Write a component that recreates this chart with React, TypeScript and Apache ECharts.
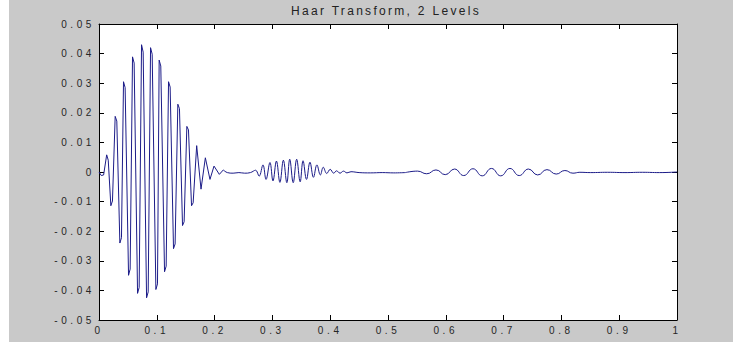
import React, { useEffect, useRef } from "react";
import * as echarts from "echarts";

// ---- Data ----
// Segment 1: the large burst (0 .. 0.22), drawn with its small steps at the extremes
const seg1X = [0, 0.004, 0.008, 0.0133, 0.016, 0.0205, 0.0233, 0.028, 0.0308, 0.0361, 0.0389, 0.0424, 0.0452, 0.0511, 0.0539, 0.058, 0.0608, 0.0667, 0.0695, 0.0736, 0.0764, 0.0823, 0.0851, 0.0892, 0.092, 0.0984, 0.1012, 0.1041, 0.1069, 0.1134, 0.1162, 0.1203, 0.1231, 0.1289, 0.1317, 0.1364, 0.1392, 0.1445, 0.1473, 0.152, 0.1548, 0.1601, 0.1629, 0.169, 0.1765, 0.184, 0.192, 0.199, 0.2082, 0.2151];
const seg1Y = [0, -0.0012, -0.001, 0.0058, 0.004, -0.0114, -0.0098, 0.0188, 0.0172, -0.024, -0.0222, 0.0305, 0.0285, -0.0349, -0.0328, 0.0389, 0.0368, -0.041, -0.039, 0.043, 0.0405, -0.0425, -0.0405, 0.042, 0.0398, -0.0397, -0.0378, 0.0378, 0.0358, -0.0337, -0.0318, 0.0305, 0.0287, -0.0259, -0.0243, 0.0229, 0.0214, -0.0181, -0.0168, 0.0154, 0.0142, -0.0114, -0.0104, 0.0089, -0.0058, 0.0048, -0.0025, 0.002, -0.0008, 0.0007];

// Segment 2: quiet part and the second burst (0.22 .. 0.53)
const seg2X = [0.2151, 0.222, 0.232, 0.242, 0.252, 0.262, 0.271, 0.277, 0.2837, 0.289, 0.2958, 0.301, 0.307, 0.313, 0.319, 0.325, 0.330, 0.336, 0.342, 0.348, 0.353, 0.359, 0.365, 0.371, 0.377, 0.383, 0.388, 0.394, 0.400, 0.406, 0.411, 0.417, 0.423, 0.429, 0.436, 0.45, 0.47, 0.49, 0.51, 0.53];
const seg2Y = [0.0007, -0.0002, -0.0004, -0.0002, -0.0004, -0.0002, 0.0006, -0.0014, 0.0024, -0.0025, 0.0032, -0.003, 0.0037, -0.0035, 0.004, -0.0036, 0.0043, -0.0036, 0.0043, -0.0033, 0.0038, -0.0025, 0.0033, -0.0018, 0.0024, -0.001, 0.0016, -0.0005, 0.0009, -0.0004, 0.0004, -0.0004, 0.0003, -0.0003, 0.0001, -0.0002, -0.0003, -0.0002, -0.0003, -0.0002];

// Segment 3: slow ripple and the flat tail (0.53 .. 1)
const seg3X = [0.53, 0.551, 0.567, 0.583, 0.599, 0.615, 0.631, 0.647, 0.663, 0.679, 0.695, 0.711, 0.727, 0.743, 0.759, 0.775, 0.791, 0.806, 0.82, 0.832, 0.85, 0.88, 0.91, 0.94, 0.97, 1];
const seg3Y = [-0.0002, 0.0003, -0.0006, 0.0007, -0.0009, 0.001, -0.0012, 0.0011, -0.0013, 0.0012, -0.0013, 0.0012, -0.0012, 0.001, -0.001, 0.0008, -0.0007, 0.0005, -0.0004, -0.0001, -0.0002, -0.0001, -0.0002, -0.0001, -0.0002, 0];

const xTickLabels = ["0", "0.1", "0.2", "0.3", "0.4", "0.5", "0.6", "0.7", "0.8", "0.9", "1"];
const yTickLabels = ["-0.05", "-0.04", "-0.03", "-0.02", "-0.01", "0", "0.01", "0.02", "0.03", "0.04", "0.05"];

const title = "Haar Transform, 2 Levels";

const pairs = (xs: number[], ys: number[]): [number, number][] => xs.map((x, i) => [x, ys[i]]);

export default function App() {
  const ref = useRef<HTMLDivElement>(null);

  useEffect(() => {
    if (!ref.current) return;
    const chart = echarts.init(ref.current, null, { renderer: "svg" });

    const labelFont = { fontFamily: "Liberation Sans", fontSize: 10, color: "#262626" };
    const axisLine = { show: true, onZero: false, lineStyle: { color: "#000", width: 1 } };
    const tick = { show: true, inside: true, length: 5, lineStyle: { color: "#000", width: 1 } };
    const lineStyle = { color: "#1c1c88", width: 1 };

    chart.setOption({
      animation: false,
      backgroundColor: "#ffffff",
      graphic: [
        {
          type: "rect",
          z: -100,
          silent: true,
          shape: { x: 9, y: 0, width: 724, height: 342 },
          style: { fill: "#c9c9c9" },
        },
        {
          type: "text",
          x: 386,
          y: 11,
          z: 100,
          style: {
            text: title,
            fill: "#222",
            font: "12px 'Liberation Sans'",
            textAlign: "center",
            textVerticalAlign: "middle",
          },
        },
      ],
      grid: {
        left: 99,
        top: 24,
        width: 578,
        height: 296,
        show: true,
        backgroundColor: "#ffffff",
        borderWidth: 0,
      },
      xAxis: [
        {
          type: "value",
          min: 0,
          max: 1,
          interval: 0.1,
          position: "bottom",
          axisLine,
          axisTick: tick,
          splitLine: { show: false },
          axisLabel: {
            ...labelFont,
            margin: 5,
            formatter: (v: number) => xTickLabels[Math.round(v * 10)] ?? "",
          },
        },
        {
          type: "value",
          min: 0,
          max: 1,
          interval: 0.1,
          position: "top",
          axisLine,
          axisTick: tick,
          splitLine: { show: false },
          axisLabel: { show: false },
        },
      ],
      yAxis: [
        {
          type: "value",
          min: -0.05,
          max: 0.05,
          interval: 0.01,
          position: "left",
          axisLine,
          axisTick: tick,
          splitLine: { show: false },
          axisLabel: {
            ...labelFont,
            margin: 4,
            formatter: (v: number) => yTickLabels[Math.round(v * 100) + 5] ?? "",
          },
        },
        {
          type: "value",
          min: -0.05,
          max: 0.05,
          interval: 0.01,
          position: "right",
          axisLine,
          axisTick: tick,
          splitLine: { show: false },
          axisLabel: { show: false },
        },
      ],
      series: [
        {
          type: "line",
          xAxisIndex: 0,
          yAxisIndex: 0,
          data: pairs(seg1X, seg1Y),
          showSymbol: false,
          symbol: "none",
          clip: true,
          lineStyle,
        },
        {
          type: "line",
          xAxisIndex: 0,
          yAxisIndex: 0,
          data: pairs(seg2X, seg2Y),
          showSymbol: false,
          symbol: "none",
          smooth: 0.4,
          clip: true,
          lineStyle,
        },
        {
          type: "line",
          xAxisIndex: 0,
          yAxisIndex: 0,
          data: pairs(seg3X, seg3Y),
          showSymbol: false,
          symbol: "none",
          smooth: 0.5,
          clip: true,
          lineStyle,
        },
      ],
    });

    return () => chart.dispose();
  }, []);

  return (
    <>
      <style>{`.haar svg text{letter-spacing:3.6px}.haar svg text[style*="12px"]{letter-spacing:2.3px}`}</style>
      <div
        className="haar"
        ref={ref}
        style={{ position: "absolute", left: 0, top: 0, width: 733, height: 356 }}
      />
    </>
  );
}
